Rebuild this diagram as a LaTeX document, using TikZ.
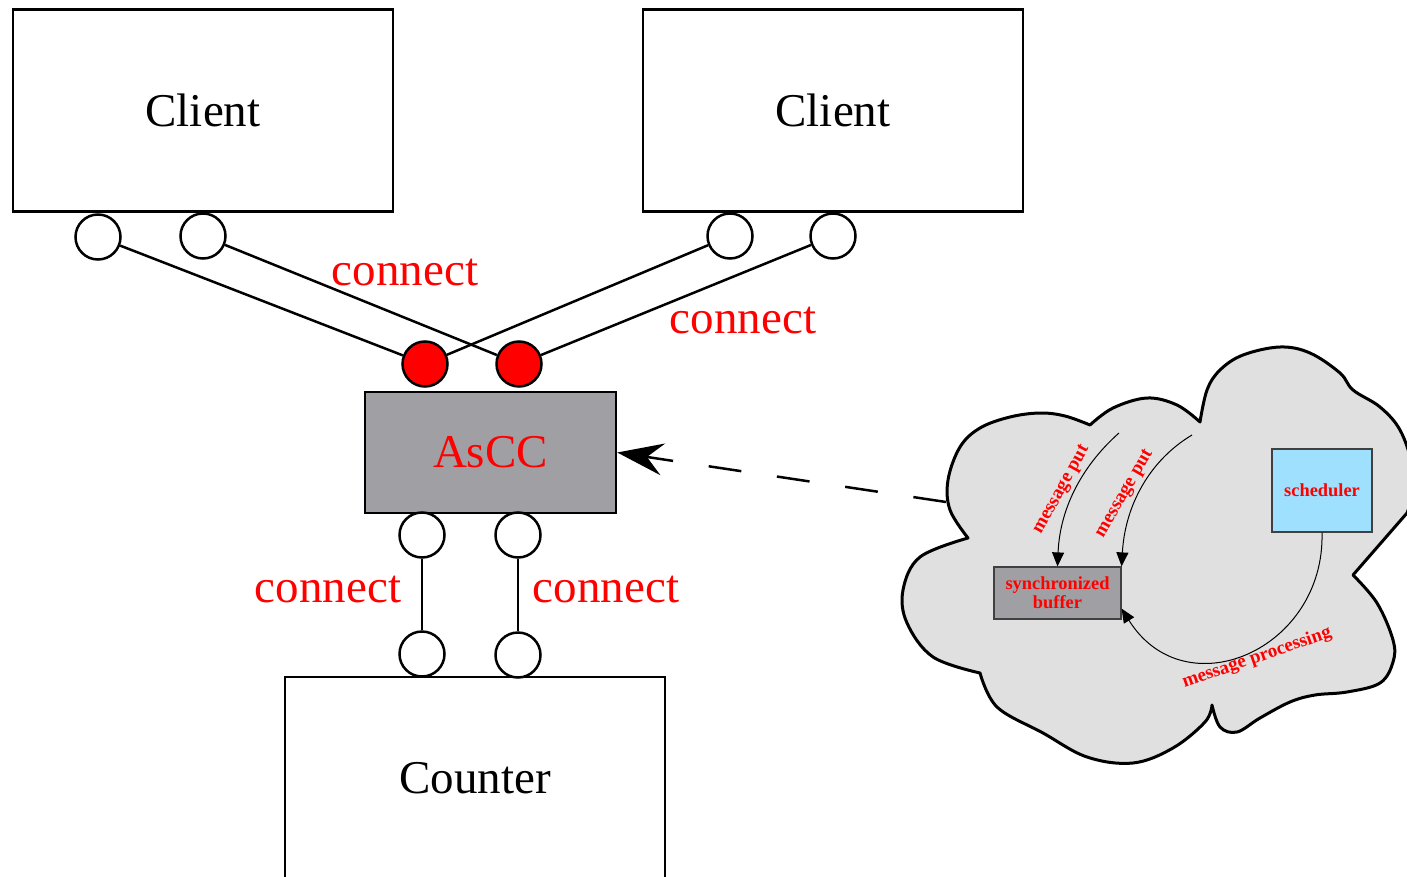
\documentclass[tikz,border=0pt]{standalone}
\usepackage{fontspec}
\setmainfont{Liberation Serif}
\usetikzlibrary{arrows.meta}
\definecolor{boxgray}{RGB}{160,160,164}
\definecolor{cloudgray}{RGB}{224,224,224}
\definecolor{schedblue}{RGB}{158,224,253}

\begin{document}
\begin{tikzpicture}[x=0.5pt, y=-0.5pt,
    comp/.style={draw, line width=1.25pt, minimum width=190pt, minimum height=101pt, inner sep=0pt, font=\fontsize{23.5}{28}\selectfont},
    port/.style={draw, circle, line width=1.25pt, fill=white, minimum size=22.5pt, inner sep=0pt},
    conn/.style={text=red, font=\fontsize{23.5}{28}\selectfont, inner sep=0pt},
    wire/.style={line width=1.25pt},
    inbox/.style={draw=black!75, line width=0.6pt, inner sep=0pt, text=red, font=\fontsize{9.2}{9.5}\selectfont\bfseries},
    msg/.style={text=red, font=\fontsize{9.5}{10}\selectfont\bfseries, inner sep=0pt},
    flow/.style={line width=0.5pt, -{Triangle[length=7pt,width=6pt]}}]
      \useasboundingbox (0,0) rectangle (1407,877);
      % components
      \node (client1) [comp] at (203,110.5) {Client};
      \node (client2) [comp] at (833,110.5) {Client};
      \node (ascc) [comp, fill=boxgray, text=red, minimum width=125.5pt, minimum height=60.5pt] at (490.5,452.5) {AsCC};
      \node (counter) [comp] at (475,778) {Counter};
      % ports
      \node (cl1a) [port] at (98,237) {};
      \node (cl1b) [port] at (203,236) {};
      \node (cl2a) [port] at (730,236) {};
      \node (cl2b) [port] at (833,236) {};
      \node (redA) [port, fill=red] at (425,364) {};
      \node (redB) [port, fill=red] at (519,364) {};
      \node (asA) [port] at (422,535) {};
      \node (asB) [port] at (518,535) {};
      \node (cntA) [port] at (422,654) {};
      \node (cntB) [port] at (518,655) {};
      \draw [wire] (cl1a) to (redA);
      \draw [wire] (cl1b) to (redB);
      \draw [wire] (cl2a) to (redA);
      \draw [wire] (cl2b) to (redB);
      \draw [wire] (asA) to (cntA);
      \draw [wire] (asB) to (cntB);
      \node (con1) [conn] at (405,272) {connect};
      \node (con2) [conn] at (743,320) {connect};
      \node (con3) [conn] at (328,589) {connect};
      \node (con4) [conn] at (606,589) {connect};
      % cloud
      \filldraw [fill=cloudgray, line width=1.5pt, line join=round] (968,538)
        -- plot[smooth, tension=0.6] coordinates {(968,538) (950,510) (948,480) (960,447) (980,428) (1010,417) (1040,413) (1065,416) (1090,425)}
        -- plot[smooth, tension=0.6] coordinates {(1090,425) (1113,408) (1147,398) (1177,405) (1200,422)}
        -- plot[smooth, tension=0.6] coordinates {(1200,422) (1207,390) (1220,370) (1243,355) (1280,347) (1310,353) (1340,373) (1353,390) (1380,407) (1400,430) (1412,465) (1412,495) (1407,513)}
        -- (1353,575)
        -- plot[smooth, tension=0.6] coordinates {(1353,575) (1377,603) (1393,640) (1393,662) (1380,683) (1347,692) (1315,695) (1290,702) (1260,718) (1237,732) (1220,727) (1212,705)}
        -- plot[smooth, tension=0.6] coordinates {(1212,705) (1205,722) (1173,748) (1133,763) (1087,757) (1043,733) (997,707) (980,673)}
        -- plot[smooth, tension=0.6] coordinates {(980,673) (933,657) (907,623) (903,590) (920,557) (968,538)}
        -- cycle;
      \node (buffer) [inbox, fill=boxgray, align=center, minimum width=63.5pt, minimum height=26pt] at (1057.5,593) {synchronized\\buffer};
      \node (sched) [inbox, fill=schedblue, minimum width=50pt, minimum height=41.5pt] at (1322,490.5) {scheduler};
      \coordinate (put1) at (1119,433);
      \coordinate (put2) at (1192,435);
      \draw [flow] (put1) .. controls (1085,463) and (1060,505) .. (buffer.north);
      \draw [flow] (put2) .. controls (1150,460) and (1125,505) .. (buffer.north east);
      \draw [flow] (sched.south) .. controls (1325,650) and (1185,710) .. ([yshift=5.5pt]buffer.south east);
      \node (putlab1) [msg, rotate=61] at (1062,490) {message put};
      \node (putlab2) [msg, rotate=60] at (1125,494) {message put};
      \node (proclab) [msg, rotate=19] at (1257,658) {message processing};
      % dashed link to AsCC
      \coordinate (cloudtip) at (946,502);
      \draw [line width=1.25pt, dash pattern=on 16.5pt off 18pt, -{Stealth[length=23pt,width=16pt,inset=8pt]}] (cloudtip) -- (ascc.east);
\end{tikzpicture}
\end{document}
